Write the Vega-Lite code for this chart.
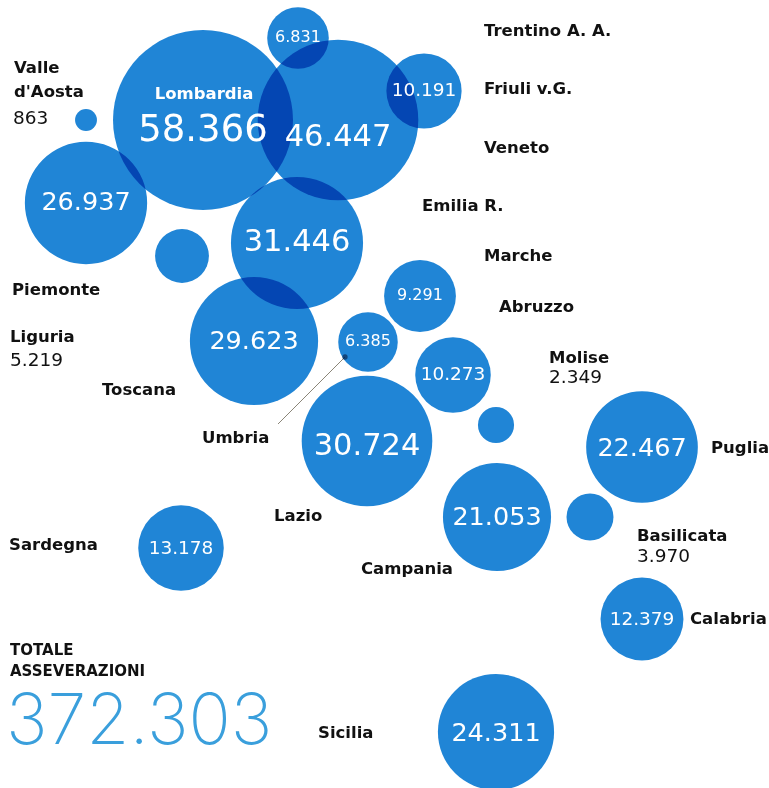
{"$schema":"https://vega.github.io/schema/vega-lite/v6.json","width":769,"height":788,"padding":0,"autosize":{"type":"none"},"background":"#ffffff","view":{"stroke":null},
"datasets":{
"regioni":[
{"regione":"Lombardia","x":203,"y":120,"valore":58366,"testo":"58.366","ty":130},
{"regione":"Veneto","x":338,"y":120,"valore":46447,"testo":"46.447","ty":137},
{"regione":"Trentino A. A.","x":298,"y":38,"valore":6831,"testo":"6.831","ty":37},
{"regione":"Friuli v.G.","x":424,"y":91,"valore":10191,"testo":"10.191","ty":90},
{"regione":"Valle d'Aosta","x":86,"y":120,"valore":863},
{"regione":"Piemonte","x":86,"y":203,"valore":26937,"testo":"26.937","ty":202},
{"regione":"Liguria","x":182,"y":256,"valore":5219},
{"regione":"Emilia R.","x":297,"y":243,"valore":31446,"testo":"31.446","ty":242},
{"regione":"Toscana","x":254,"y":341,"valore":29623,"testo":"29.623","ty":341},
{"regione":"Marche","x":420,"y":296,"valore":9291,"testo":"9.291","ty":295},
{"regione":"Umbria","x":368,"y":342,"valore":6385,"testo":"6.385","ty":341},
{"regione":"Abruzzo","x":453,"y":375,"valore":10273,"testo":"10.273","ty":374},
{"regione":"Molise","x":496,"y":425,"valore":2349},
{"regione":"Lazio","x":367,"y":441,"valore":30724,"testo":"30.724","ty":446},
{"regione":"Puglia","x":642,"y":447,"valore":22467,"testo":"22.467","ty":448},
{"regione":"Campania","x":497,"y":517,"valore":21053,"testo":"21.053","ty":517},
{"regione":"Basilicata","x":590,"y":517,"valore":3970},
{"regione":"Sardegna","x":181,"y":548,"valore":13178,"testo":"13.178","ty":548},
{"regione":"Calabria","x":642,"y":619,"valore":12379,"testo":"12.379","ty":619},
{"regione":"Sicilia","x":496,"y":732,"valore":24311,"testo":"24.311","ty":733}
],
"etichette":[
{"t":"Trentino A. A.","x":484,"y":31},{"t":"Friuli v.G.","x":484,"y":89},{"t":"Veneto","x":484,"y":148},{"t":"Emilia R.","x":422,"y":206},{"t":"Marche","x":484,"y":256},{"t":"Abruzzo","x":499,"y":307},{"t":"Molise","x":549,"y":358},{"t":"Puglia","x":711,"y":448},{"t":"Basilicata","x":637,"y":536},{"t":"Calabria","x":690,"y":619},{"t":"Campania","x":361,"y":569},{"t":"Lazio","x":274,"y":516},{"t":"Umbria","x":202,"y":438},{"t":"Toscana","x":102,"y":390},{"t":"Piemonte","x":12,"y":290},{"t":"Liguria","x":10,"y":337},{"t":"Valle","x":14,"y":68},{"t":"d'Aosta","x":14,"y":92},{"t":"Sardegna","x":9,"y":545},{"t":"Sicilia","x":318,"y":733}
],
"numeri":[{"t":"2.349","x":549,"y":377},{"t":"3.970","x":637,"y":556},{"t":"5.219","x":10,"y":360},{"t":"863","x":13,"y":118}],
"totale":[{"t":"TOTALE","x":10,"y":650},{"t":"ASSEVERAZIONI","x":10,"y":671}],
"cifra":[{"t":"372.303","x":6,"y":723}],
"nome":[{"t":"Lombardia","x":204,"y":94}],
"guida":[{"x":278,"y":424,"x2":345,"y2":357}]
},
"encoding":{
"x":{"field":"x","type":"quantitative","scale":{"domain":[0,769]},"axis":null},
"y":{"field":"y","type":"quantitative","scale":{"domain":[0,788],"reverse":true},"axis":null}
},
"layer":[
{"data":{"name":"guida"},"mark":{"type":"rule","stroke":"#8a8578","strokeWidth":1},"encoding":{"x2":{"field":"x2"},"y2":{"field":"y2"}}},
{"data":{"name":"regioni"},"mark":{"type":"circle","opacity":1,"blend":"multiply","color":"#2085d6"},"encoding":{"size":{"field":"valore","type":"quantitative","scale":{"type":"linear","domain":[0,58366],"range":[0,32400]},"legend":null}}},
{"data":{"name":"guida"},"mark":{"type":"circle","color":"#0d2a55","size":28},"encoding":{"x":{"field":"x2","type":"quantitative"},"y":{"field":"y2","type":"quantitative"}}},
{"data":{"name":"regioni"},"transform":[{"filter":"isValid(datum.testo)"}],"mark":{"type":"text","color":"#ffffff","font":"DejaVu Sans","fontWeight":400,"align":"center","baseline":"middle"},"encoding":{"y":{"field":"ty","type":"quantitative"},"text":{"field":"testo"},"size":{"field":"valore","type":"quantitative","scale":{"type":"threshold","domain":[10000,15000,30000,50000],"range":[16,18.5,25.5,30.5,37]},"legend":null}}},
{"data":{"name":"nome"},"mark":{"type":"text","color":"#ffffff","font":"DejaVu Sans","fontWeight":700,"fontSize":16.5,"align":"center","baseline":"middle"},"encoding":{"text":{"field":"t"}}},
{"data":{"name":"etichette"},"mark":{"type":"text","color":"#111111","font":"DejaVu Sans","fontWeight":700,"fontSize":16.5,"align":"left","baseline":"middle"},"encoding":{"text":{"field":"t"}}},
{"data":{"name":"numeri"},"mark":{"type":"text","color":"#111111","font":"DejaVu Sans","fontWeight":400,"fontSize":18.5,"align":"left","baseline":"middle"},"encoding":{"text":{"field":"t"}}},
{"data":{"name":"totale"},"mark":{"type":"text","color":"#111111","font":"DejaVu Sans","fontWeight":700,"fontSize":15,"align":"left","baseline":"middle"},"encoding":{"text":{"field":"t"}}},
{"data":{"name":"cifra"},"mark":{"type":"text","color":"#3a9fdc","font":"Inter","fontWeight":200,"fontSize":70,"align":"left","baseline":"middle"},"encoding":{"text":{"field":"t"}}}
]}
